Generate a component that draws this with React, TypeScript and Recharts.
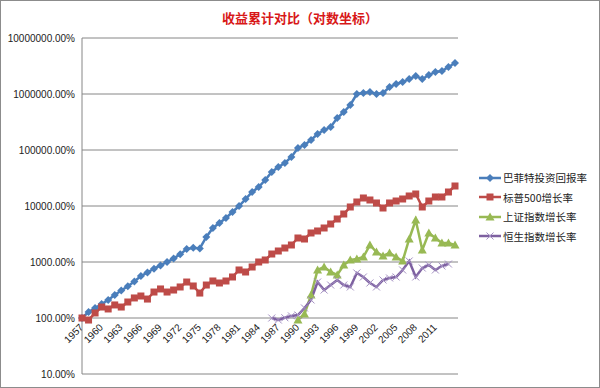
import { LineChart, Line, XAxis, YAxis, CartesianGrid } from 'recharts'

// 年份（类目）
const YEARS = [
  1957, 1958, 1959, 1960, 1961, 1962, 1963, 1964, 1965, 1966,
  1967, 1968, 1969, 1970, 1971, 1972, 1973, 1974, 1975, 1976,
  1977, 1978, 1979, 1980, 1981, 1982, 1983, 1984, 1985, 1986,
  1987, 1988, 1989, 1990, 1991, 1992, 1993, 1994, 1995, 1996,
  1997, 1998, 1999, 2000, 2001, 2002, 2003, 2004, 2005, 2006,
  2007, 2008, 2009, 2010, 2011, 2012, 2013, 2014,
]

// 累计收益（%）
const BUFFETT = [
  100, 128, 151, 178, 210, 257, 310, 370, 450, 560,
  650, 760, 870, 1000, 1150, 1380, 1700, 1800, 1750, 2800,
  4050, 4970, 6100, 7800, 10000, 13300, 17800, 21800, 29100, 40500,
  49700, 58600, 75000, 108600, 122800, 151000, 193000, 227500, 257600, 372800,
  477000, 636400, 1000000, 1042000, 1086000, 1000000, 1042000, 1334000, 1509000, 1637000,
  1853000, 2096000, 1853000, 2184000, 2472000, 2574000, 3035000, 3580000,
]

const SP500 = [
  100, 92, 123, 157, 145, 171, 157, 193, 228, 247,
  218, 291, 330, 291, 316, 358, 439, 373, 279, 388,
  458, 422, 458, 540, 720, 663, 814, 1000, 1086, 1389,
  1572, 1778, 2012, 2683, 2574, 3297, 3580, 4048, 4770, 5860,
  7197, 9600, 11790, 13900, 12800, 11320, 9210, 11320, 12280, 13340,
  15090, 16380, 9600, 12280, 14480, 14480, 17780, 22760,
]

const SSE_FROM = 1990
const SSE = [
  92, 118, 257, 720, 814, 663, 586, 884, 1086, 1132,
  1228, 2012, 1509, 1280, 1448, 1228, 1042, 2574, 5623, 1638,
  3297, 2683, 2184, 2184, 2012,
]

const HSI_FROM = 1986
const HSI = [
  100, 92, 101, 109, 113, 151, 210, 439, 316, 388,
  477, 388, 358, 636, 540, 422, 358, 477, 518, 540,
  720, 1042, 540, 781, 884, 720, 849, 920,
]

const Y_TICKS = [10, 100, 1000, 10000, 100000, 1000000, 10000000]
const X_TICKS = [
  1957, 1960, 1963, 1966, 1969, 1972, 1975, 1978, 1981, 1984,
  1987, 1990, 1993, 1996, 1999, 2002, 2005, 2008, 2011,
]

const data = YEARS.map((year, i) => ({
  year,
  buffett: BUFFETT[i],
  sp500: SP500[i],
  sse: year >= SSE_FROM ? SSE[year - SSE_FROM] ?? null : null,
  hsi: year >= HSI_FROM ? HSI[year - HSI_FROM] ?? null : null,
}))

const PLOT_TOP = 38
const PLOT_BOTTOM = 374
// 横轴与 100% 处相交
const AXIS_Y =
  PLOT_BOTTOM -
  ((PLOT_BOTTOM - PLOT_TOP) * (Math.log10(100) - Math.log10(10))) /
    (Math.log10(10000000) - Math.log10(10))

const FONT = '"Liberation Sans", Arial, sans-serif'
const CJK = '"Noto Sans CJK SC", sans-serif'

const Diamond = ({ cx, cy, color }: any) => (
  <polygon
    points={`${cx},${cy - 4} ${cx + 4},${cy} ${cx},${cy + 4} ${cx - 4},${cy}`}
    fill={color}
  />
)
const Square = ({ cx, cy, color }: any) => (
  <rect x={cx - 3.5} y={cy - 3.5} width={7} height={7} fill={color} />
)
const Triangle = ({ cx, cy, color }: any) => (
  <polygon
    points={`${cx},${cy - 4.5} ${cx + 4.5},${cy + 3.5} ${cx - 4.5},${cy + 3.5}`}
    fill={color}
  />
)
const Cross = ({ cx, cy, color }: any) => (
  <g stroke={color} strokeWidth={1}>
    <line x1={cx - 3.5} y1={cy - 3.5} x2={cx + 3.5} y2={cy + 3.5} />
    <line x1={cx - 3.5} y1={cy + 3.5} x2={cx + 3.5} y2={cy - 3.5} />
  </g>
)

const SERIES = [
  { key: 'buffett', name: '巴菲特投资回报率', color: '#4A7EBB', mark: '#4A7EBB', Marker: Diamond },
  { key: 'sp500', name: '标普500增长率', color: '#BE4B48', mark: '#BE4B48', Marker: Square },
  { key: 'sse', name: '上证指数增长率', color: '#98B954', mark: '#98B954', Marker: Triangle },
  { key: 'hsi', name: '恒生指数增长率', color: '#7D60A0', mark: '#A38FC2', Marker: Cross },
]

function YearTick({ x, payload }: any) {
  const ty = AXIS_Y + 10
  return (
    <text
      x={x + 2}
      y={ty}
      transform={`rotate(-45 ${x + 2} ${ty})`}
      textAnchor="end"
      fontSize={10}
      fontFamily={FONT}
      fill="#222"
    >
      {payload.value}
    </text>
  )
}

export default function App() {
  return (
    <div style={{ position: 'absolute', left: 0, top: 0, width: 600, height: 388, background: '#fff' }}>
      <div
        style={{
          position: 'absolute',
          left: 0,
          top: 8,
          width: 600,
          textAlign: 'center',
          color: '#D81818',
          fontFamily: CJK,
          fontWeight: 'bold',
          fontSize: 13,
        }}
      >
        收益累计对比（对数坐标）
      </div>

      <LineChart
        width={600}
        height={388}
        data={data}
        margin={{ top: PLOT_TOP, right: 142, bottom: 0, left: 0 }}
      >
        <CartesianGrid vertical={false} stroke="#868686" />
        <XAxis
          dataKey="year"
          type="number"
          domain={[1957, 2014]}
          ticks={X_TICKS}
          interval={0}
          axisLine={false}
          tickLine={false}
          tick={<YearTick />}
          height={388 - PLOT_BOTTOM}
          padding={{ left: 0, right: 3 }}
        />
        <YAxis
          scale="log"
          type="number"
          domain={[10, 10000000]}
          ticks={Y_TICKS}
          width={82}
          stroke="#868686"
          tickLine={false}
          tickSize={5}
          tickMargin={2}
          tick={{ fontSize: 10, fontFamily: FONT, fill: '#222' }}
          tickFormatter={(v: number) => `${v.toFixed(2)}%`}
        />
        {SERIES.map(({ key, name, color, mark, Marker }) => (
          <Line
            key={key}
            dataKey={key}
            name={name}
            stroke={color}
            strokeWidth={2.5}
            isAnimationActive={false}
            connectNulls={false}
            dot={(p: any) =>
              p.cx == null || p.cy == null || p.value == null ? (
                <g key={p.key} />
              ) : (
                <Marker key={p.key} cx={p.cx} cy={p.cy} color={mark} />
              )
            }
            activeDot={false}
          />
        ))}
      </LineChart>

      <div style={{ position: 'absolute', left: 478, top: 168 }}>
        {SERIES.map(({ key, name, color, mark, Marker }) => (
          <div key={key} style={{ display: 'flex', alignItems: 'center', height: 19.5 }}>
            <svg width={24} height={10}>
              <line x1={1} y1={5} x2={23} y2={5} stroke={color} strokeWidth={2.5} />
              <Marker cx={12} cy={5} color={mark} />
            </svg>
            <span style={{ fontFamily: CJK, fontSize: 10.5, color: '#222', marginLeft: 1 }}>{name}</span>
          </div>
        ))}
      </div>

      <div
        style={{
          position: 'absolute',
          left: 0,
          top: 0,
          width: 600,
          height: 388,
          boxSizing: 'border-box',
          border: '1px solid #8c8c8c',
          pointerEvents: 'none',
        }}
      />
    </div>
  )
}
